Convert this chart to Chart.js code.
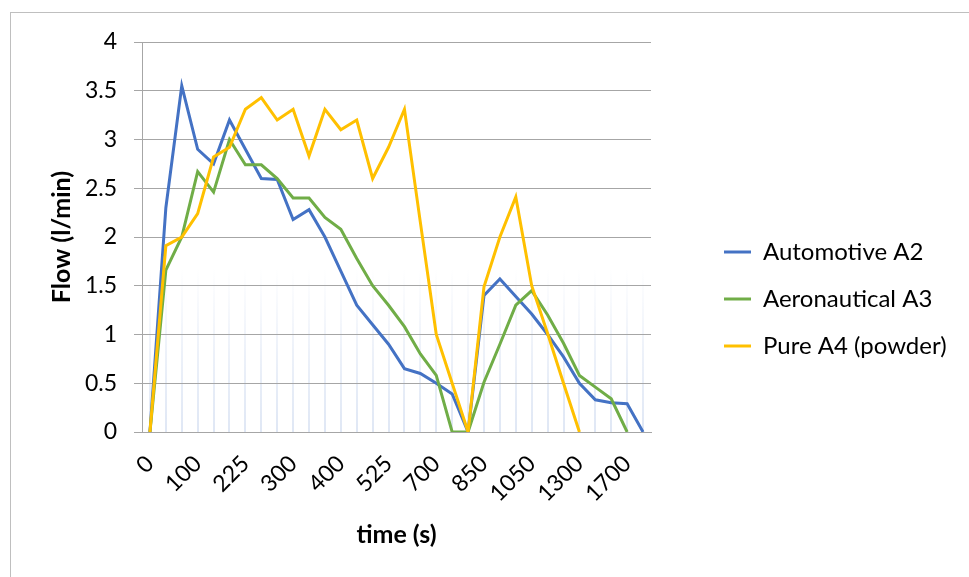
<!DOCTYPE html>
<html>
<head>
<meta charset="utf-8">
<script src="https://cdn.jsdelivr.net/npm/chart.js@4.4.1/dist/chart.umd.min.js"></script>
<style>
  html, body { margin: 0; padding: 0; background: #fff; }
  #wrap { width: 969px; height: 577px; }
</style>
</head>
<body>
<div id="wrap"><canvas id="c" width="969" height="577"></canvas></div>
<script>
const timeLabels = ['0','25','50','100','150','200','225','250','275','300','325','350','400','450','500','525','575','625','700','750','800','850','900','975','1050','1125','1200','1300','1400','1550','1700','1800'];

const automotiveA2 = [0, 2.3, 3.55, 2.9, 2.75, 3.2, 2.9, 2.6, 2.59, 2.18, 2.28, 2.0, 1.65, 1.3, 1.1, 0.9, 0.65, 0.6, 0.5, 0.39, 0, 1.4, 1.57, 1.39, 1.21, 1.0, 0.77, 0.5, 0.33, 0.3, 0.29, 0];
const aeronauticalA3 = [0, 1.66, 2.0, 2.67, 2.46, 3.0, 2.74, 2.74, 2.6, 2.4, 2.4, 2.2, 2.08, 1.78, 1.5, 1.3, 1.08, 0.8, 0.58, 0, 0, 0.51, 0.9, 1.3, 1.45, 1.2, 0.91, 0.58, 0.46, 0.34, 0, null];
const pureA4 = [0, 1.91, 2.0, 2.24, 2.82, 2.92, 3.31, 3.43, 3.2, 3.31, 2.83, 3.31, 3.1, 3.2, 2.6, 2.92, 3.31, 2.15, 1.0, 0.5, 0, 1.49, 2.0, 2.41, 1.5, 1.01, 0.5, 0, null, null, null, null];

const seriesNames = ['Automotive A2', 'Aeronautical A3', 'Pure A4 (powder)'];
const seriesColors = ['#4472C4', '#70AD47', '#FFC000'];
const yTicks = { min: 0, max: 4, step: 0.5 };

const FONT = 'Lato';
const LEGEND_WIDTH = 268;

const framePlugin = {
  id: 'frame',
  beforeLayout(chart) {
    const lg = chart.legend;
    if (lg && !lg._fixedWidth) {
      const orig = lg.fit.bind(lg);
      lg.fit = function () { orig(); this.width = LEGEND_WIDTH; };
      lg._fixedWidth = true;
    }
  },
  beforeDraw(chart) {
    const ctx = chart.ctx;
    ctx.save();
    ctx.fillStyle = '#ffffff';
    ctx.fillRect(0, 0, chart.width, chart.height);
    ctx.strokeStyle = '#bfbfbf';
    ctx.lineWidth = 1;
    ctx.strokeRect(10.5, 12.5, 2000, 2000);
    ctx.restore();
  }
};

function faintColor(context) {
  const chart = context.chart;
  const area = chart.chartArea;
  if (!area) return 'rgba(218,227,243,0.5)';
  const g = chart.ctx.createLinearGradient(0, area.bottom, 0, area.top);
  g.addColorStop(0, 'rgba(218,227,243,0.85)');
  g.addColorStop(0.2, 'rgba(218,227,243,0.5)');
  g.addColorStop(0.42, 'rgba(218,227,243,0)');
  g.addColorStop(1, 'rgba(218,227,243,0)');
  return g;
}

const datasets = [automotiveA2, aeronauticalA3, pureA4].map((d, i) => ({
  label: seriesNames[i],
  data: d,
  borderColor: seriesColors[i],
  backgroundColor: seriesColors[i],
  borderWidth: 3,
  pointRadius: 0,
  pointHoverRadius: 0,
  tension: 0,
  spanGaps: false,
  order: 3 - i
}));

new Chart(document.getElementById('c'), {
  type: 'line',
  data: { labels: timeLabels, datasets },
  plugins: [framePlugin],
  options: {
    responsive: false,
    animation: false,
    layout: { padding: { top: 42, bottom: 21, left: 0, right: 0 } },
    plugins: {
      tooltip: { enabled: false },
      legend: {
        position: 'right',
        labels: {
          font: { family: FONT, size: 24 },
          color: '#000',
          boxWidth: 27,
          boxHeight: 3,
          padding: 23,
          sort: (a, b) => a.datasetIndex - b.datasetIndex,
          generateLabels: (chart) => Chart.defaults.plugins.legend.labels.generateLabels(chart).map(l => Object.assign(l, { lineWidth: 0 }))
        }
      }
    },
    scales: {
      x: {
        type: 'category',
        offset: true,
        afterFit: (s) => { s.height = 124; },
        grid: { display: true, color: faintColor, lineWidth: 2, drawTicks: false, offset: false },
        border: { display: true, color: '#a6a6a6', width: 1 },
        ticks: {
          autoSkip: false,
          minRotation: 45,
          maxRotation: 45,
          padding: 18,
          color: '#000',
          font: { family: FONT, size: 23 },
          callback: function (v, i) { return i % 3 === 0 ? this.getLabelForValue(v) : ''; }
        },
        title: {
          display: true,
          text: 'time (s)',
          color: '#000',
          font: { family: FONT, size: 25, weight: 'bold' },
          padding: { top: 0, bottom: 6 }
        }
      },
      y: {
        min: yTicks.min,
        max: yTicks.max,
        afterFit: (s) => { s.width = 142; },
        grid: { color: '#a6a6a6', lineWidth: 1, drawTicks: true, tickLength: 8 },
        border: { display: true, color: '#a6a6a6', width: 1 },
        ticks: {
          stepSize: yTicks.step,
          padding: 17,
          color: '#000',
          font: { family: FONT, size: 23 },
          callback: (v) => String(Number(v))
        },
        title: {
          display: true,
          text: 'Flow (l/min)',
          color: '#000',
          font: { family: FONT, size: 25, weight: 'bold' },
          padding: { top: 47, bottom: 0 }
        }
      },
      gap: {
        type: 'linear',
        position: 'right',
        display: true,
        afterFit: (s) => { s.width = 50; },
        grid: { display: false, drawTicks: false },
        border: { display: false },
        ticks: { display: false }
      }
    }
  }
});
</script>
</body>
</html>
